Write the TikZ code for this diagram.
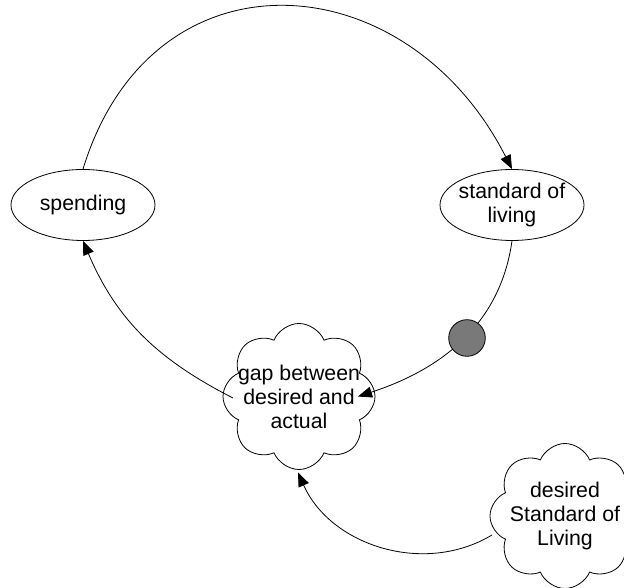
\documentclass[tikz,border=0pt]{standalone}
\usepackage{fontspec}
\setmainfont{Liberation Sans}
\usetikzlibrary{shapes.geometric,shapes.symbols,arrows.meta,calc}
\begin{document}
\begin{tikzpicture}[x=1pt,y=1pt,
  every node/.style={font=\fontsize{21.3}{24}\selectfont},
  oval/.style={draw,ellipse,line width=0.8pt,minimum width=144pt,minimum height=71pt,inner xsep=-5pt,inner ysep=0pt,align=center},
  puff/.style={draw,cloud,cloud puffs=8,cloud puff arc=135,cloud ignores aspect,line width=0.8pt,minimum width=152pt,minimum height=146pt,inner sep=0pt},
  intext/.style={align=center,inner sep=0pt,font=\fontsize{21.3}{24}\selectfont},
  delay/.style={draw,circle,fill=gray!95!black,line width=0.8pt,minimum size=36.6pt,inner sep=0pt},
  link/.style={line width=0.8pt,-{Triangle[length=14pt,width=11pt]}}
]
\useasboundingbox (0,0) rectangle (624,588);
\clip (0,0) rectangle (624,588);

\node[oval] (sp) at (83,383) {spending};
\node[oval] (sol) at (512,383) {standard of\\living};
\node[puff,label={[intext]center:gap between\\desired and\\actual}] (gap) at (299,191.5) {};
\node[puff,minimum width=150pt,minimum height=145pt,label={[intext]center:desired\\Standard of\\Living}] (des) at (565,72) {};

\draw[link] (sp.north) to[out=73,in=117,looseness=1.4] (sol.north);
\draw[link] (sol.south) to[out=-98,in=18] ($(gap.center)+(59,0)$);
\draw[link] ($(gap.center)+(-66,-1.5)$) to[out=153,in=-67] (sp.south);
\draw[link] ($(des.center)+(-73,-19)$) to[out=211,in=-66] ($(gap.center)+(-1,-76)$);

\node[delay] (valve) at (467,250) {};
\end{tikzpicture}
\end{document}
